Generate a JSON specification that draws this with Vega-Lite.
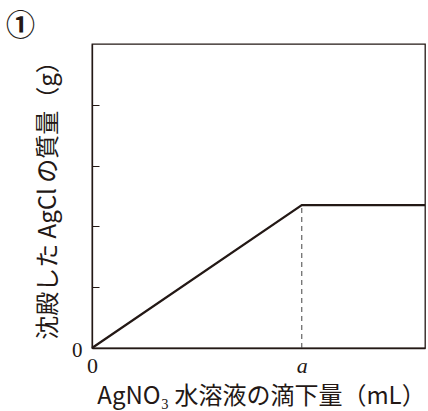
{
  "$schema": "https://vega.github.io/schema/vega-lite/v6.json",
  "width": 333,
  "height": 304,
  "autosize": {"type": "none"},
  "padding": {"left": 92, "top": 44, "right": 3, "bottom": 63},
  "background": "white",
  "title": {
    "text": "①",
    "anchor": "start",
    "frame": "group",
    "dx": -86,
    "dy": 35,
    "offset": 8,
    "fontSize": 29,
    "font": "Noto Sans CJK JP",
    "fontWeight": "bold",
    "color": "#231815",
    "baseline": "bottom"
  },
  "datasets": {
    "curve": [
      {"x": 0, "y": 0},
      {"x": 6.3, "y": 2.35},
      {"x": 10, "y": 2.35}
    ],
    "guide": [
      {"x": 6.3, "y": 0, "y2": 2.35}
    ]
  },
  "layer": [
    {
      "data": {"name": "guide"},
      "mark": {"type": "rule", "strokeDash": [5, 4], "strokeWidth": 1, "color": "#444444"},
      "encoding": {
        "x": {"field": "x", "type": "quantitative", "scale": {"domain": [0, 10], "nice": false}},
        "y": {"field": "y", "type": "quantitative", "scale": {"domain": [0, 5], "nice": false}},
        "y2": {"field": "y2"}
      }
    },
    {
      "data": {"name": "curve"},
      "mark": {"type": "line", "strokeWidth": 2.2, "color": "#231815"},
      "encoding": {
        "x": {
          "field": "x",
          "type": "quantitative",
          "scale": {"domain": [0, 10], "nice": false},
          "axis": {
            "values": [0, 6.3],
            "ticks": false,
            "grid": false,
            "domain": true,
            "labelExpr": "datum.value == 0 ? '0' : 'a'",
            "labelFont": "Liberation Serif",
            "labelFontSize": 22,
            "labelFontStyle": {"expr": "datum.value == 0 ? 'normal' : 'italic'"},
            "labelColor": "#231815",
            "labelPadding": 7,
            "labelFlush": false,
            "title": "AgNO₃ 水溶液の滴下量（mL）",
            "titleFont": "Noto Sans CJK JP",
            "titleFontSize": 24,
            "titleFontWeight": "normal",
            "titleColor": "#231815",
            "titleX": 169,
            "titleY": 48,
            "titleBaseline": "middle"
          }
        },
        "y": {
          "field": "y",
          "type": "quantitative",
          "scale": {"domain": [0, 5], "nice": false},
          "axis": {
            "values": [0, 1, 2, 3, 4],
            "ticks": true,
            "tickSize": -7,
            "tickColor": "#231815",
            "tickWidth": 1,
            "grid": false,
            "domain": true,
            "labelExpr": "datum.value == 0 ? '0' : ''",
            "labelFont": "Liberation Serif",
            "labelFontSize": 21,
            "labelColor": "#231815",
            "labelPadding": 17,
            "labelOffset": 2,
            "labelFlush": false,
            "title": "沈殿した AgCl の質量（g）",
            "titleFont": "Noto Sans CJK JP",
            "titleFontSize": 24,
            "titleFontWeight": "normal",
            "titleColor": "#231815",
            "titleX": -44,
            "titleY": 150,
            "titleAngle": -90,
            "titleBaseline": "middle",
            "titleAlign": "center"
          }
        }
      }
    }
  ],
  "config": {
    "view": {"stroke": "#231815", "strokeWidth": 1.3},
    "axis": {"domainColor": "#231815", "domainWidth": 1.3}
  }
}
